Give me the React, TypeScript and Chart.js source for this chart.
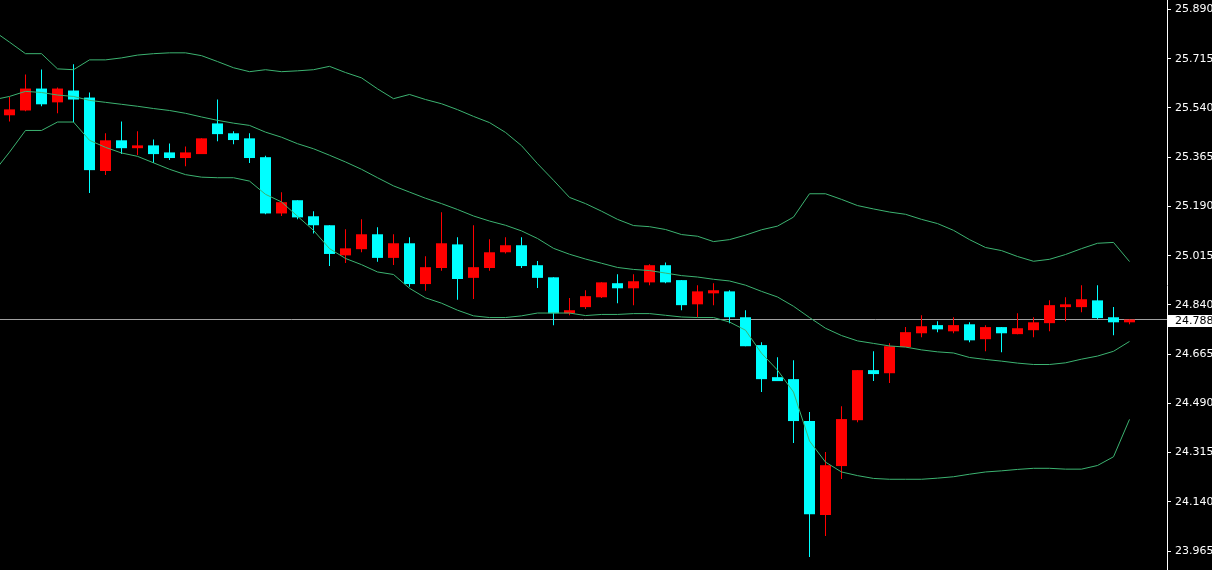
import { useEffect, useRef } from 'react';
import { Chart, registerables } from 'chart.js';

Chart.register(...registerables);

// OHLC of the 71 visible bars (left to right)
const opens = [
  25.514, 25.531, 25.609, 25.560, 25.602, 25.577, 25.316, 25.425, 25.397, 25.407,
  25.382, 25.362, 25.376, 25.485, 25.450, 25.432, 25.365, 25.165, 25.212, 25.155,
  25.123, 25.016, 25.038, 25.091, 25.007, 25.059, 24.914, 24.971, 25.055, 24.936,
  24.971, 25.027, 25.052, 24.981, 24.938, 24.810, 24.832, 24.867, 24.917, 24.899,
  24.920, 24.981, 24.928, 24.842, 24.881, 24.888, 24.796, 24.697, 24.583, 24.576,
  24.427, 24.093, 24.267, 24.430, 24.608, 24.597, 24.690, 24.739, 24.768, 24.746,
  24.771, 24.718, 24.761, 24.736, 24.750, 24.775, 24.832, 24.832, 24.856, 24.796,
  24.778,
];
const highs = [
  25.579, 25.659, 25.677, 25.613, 25.695, 25.595, 25.450, 25.492, 25.457, 25.428,
  25.414, 25.403, 25.432, 25.570, 25.457, 25.450, 25.370, 25.240, 25.212, 25.173,
  25.123, 25.109, 25.144, 25.116, 25.091, 25.080, 25.013, 25.169, 25.080, 25.123,
  25.073, 25.080, 25.080, 24.996, 24.938, 24.864, 24.892, 24.920, 24.949, 24.949,
  24.984, 24.991, 24.928, 24.910, 24.917, 24.892, 24.821, 24.707, 24.654, 24.643,
  24.459, 24.317, 24.480, 24.608, 24.675, 24.704, 24.761, 24.803, 24.782, 24.796,
  24.778, 24.768, 24.761, 24.810, 24.796, 24.856, 24.867, 24.910, 24.910, 24.832,
  24.788,
];
const lows = [
  25.492, 25.528, 25.546, 25.521, 25.489, 25.238, 25.302, 25.376, 25.373, 25.344,
  25.355, 25.333, 25.376, 25.422, 25.411, 25.344, 25.162, 25.156, 25.144, 25.094,
  24.978, 24.989, 25.027, 24.993, 24.982, 24.904, 24.890, 24.961, 24.858, 24.861,
  24.961, 25.023, 24.971, 24.900, 24.768, 24.803, 24.825, 24.864, 24.846, 24.839,
  24.910, 24.917, 24.821, 24.796, 24.839, 24.775, 24.693, 24.530, 24.569, 24.349,
  23.944, 24.018, 24.221, 24.423, 24.569, 24.562, 24.690, 24.725, 24.743, 24.739,
  24.707, 24.675, 24.672, 24.736, 24.725, 24.746, 24.782, 24.814, 24.789, 24.732,
  24.771,
];
const closes = [
  25.535, 25.609, 25.553, 25.609, 25.570, 25.319, 25.425, 25.397, 25.407, 25.376,
  25.362, 25.382, 25.432, 25.447, 25.426, 25.362, 25.165, 25.205, 25.151, 25.123,
  25.021, 25.041, 25.091, 25.007, 25.059, 24.914, 24.974, 25.059, 24.932, 24.974,
  25.027, 25.052, 24.978, 24.936, 24.810, 24.821, 24.871, 24.920, 24.899, 24.924,
  24.981, 24.920, 24.839, 24.888, 24.892, 24.796, 24.693, 24.576, 24.569, 24.427,
  24.096, 24.270, 24.434, 24.608, 24.594, 24.693, 24.743, 24.764, 24.753, 24.768,
  24.714, 24.761, 24.739, 24.757, 24.778, 24.839, 24.842, 24.860, 24.793, 24.778,
  24.788,
];

// Bollinger bands, starting one bar before the first visible bar
const bandStart = -1;
const upperBand = [
  25.814, 25.774, 25.733, 25.733, 25.679, 25.676, 25.711, 25.711, 25.718, 25.728,
  25.733, 25.736, 25.736, 25.726, 25.705, 25.683, 25.669, 25.676, 25.669, 25.672,
  25.676, 25.688, 25.666, 25.647, 25.608, 25.573, 25.588, 25.570, 25.555, 25.534,
  25.510, 25.488, 25.453, 25.406, 25.342, 25.283, 25.222, 25.200, 25.173, 25.144,
  25.122, 25.118, 25.108, 25.090, 25.084, 25.065, 25.072, 25.088, 25.107, 25.120,
  25.152, 25.235, 25.235, 25.215, 25.193, 25.181, 25.170, 25.162, 25.144, 25.129,
  25.105, 25.072, 25.044, 25.033, 25.012, 24.995, 25.002, 25.019, 25.040, 25.059,
  25.062, 24.994,
];
const middleBand = [
  25.569, 25.581, 25.599, 25.595, 25.586, 25.581, 25.567, 25.560, 25.553, 25.546,
  25.538, 25.531, 25.521, 25.508, 25.496, 25.486, 25.478, 25.454, 25.436, 25.413,
  25.395, 25.372, 25.348, 25.322, 25.292, 25.263, 25.241, 25.219, 25.200, 25.179,
  25.156, 25.138, 25.123, 25.103, 25.076, 25.041, 25.020, 25.003, 24.988, 24.973,
  24.966, 24.962, 24.953, 24.944, 24.939, 24.931, 24.925, 24.910, 24.888, 24.868,
  24.835, 24.795, 24.757, 24.731, 24.712, 24.703, 24.694, 24.690, 24.680, 24.673,
  24.669, 24.653, 24.646, 24.640, 24.633, 24.628, 24.628, 24.634, 24.647, 24.658,
  24.675, 24.710,
];
const lowerBand = [
  25.311, 25.383, 25.460, 25.460, 25.490, 25.490, 25.425, 25.400, 25.380, 25.368,
  25.345, 25.322, 25.303, 25.294, 25.292, 25.292, 25.280, 25.233, 25.206, 25.155,
  25.105, 25.040, 25.005, 24.983, 24.957, 24.948, 24.899, 24.865, 24.846, 24.821,
  24.801, 24.795, 24.795, 24.801, 24.811, 24.811, 24.811, 24.802, 24.806, 24.806,
  24.809, 24.809, 24.803, 24.797, 24.795, 24.795, 24.779, 24.750, 24.668, 24.608,
  24.530, 24.356, 24.281, 24.246, 24.233, 24.223, 24.220, 24.220, 24.220, 24.224,
  24.229, 24.238, 24.246, 24.250, 24.255, 24.259, 24.259, 24.256, 24.256, 24.269,
  24.300, 24.433,
];

const yTicks = [25.890, 25.715, 25.540, 25.365, 25.190, 25.015, 24.840, 24.665, 24.490, 24.315, 24.140, 23.965];

const UP = '#ff0000';
const DOWN = '#00ffff';
const BAND = '#3cb371';
const BID = '#a0a0a0';
const FONT = '"DejaVu Sans", sans-serif';

const lastPrice = closes[closes.length - 1];

export default function App() {
  const ref = useRef<HTMLCanvasElement | null>(null);

  useEffect(() => {
    document.body.style.margin = '0';
    document.body.style.background = '#000';
    const colors = closes.map((c, i) => (c >= opens[i] ? UP : DOWN));
    const bodies = closes.map((c, i) => ({ x: i, y: [Math.min(opens[i], c), Math.max(opens[i], c)] }));
    const wicks = highs.map((h, i) => ({ x: i, y: [lows[i], h] }));
    const band = (arr: number[]) => arr.map((v, k) => ({ x: k + bandStart, y: v }));

    const bidLabel = {
      id: 'bidLabel',
      afterDraw(chart: any) {
        const ctx = chart.ctx;
        const y = chart.scales.y.getPixelForValue(lastPrice);
        const x = chart.chartArea.right + 1;
        ctx.save();
        ctx.fillStyle = '#ffffff';
        ctx.fillRect(x, Math.round(y) - 5, chart.width - x, 12);
        ctx.fillStyle = '#000000';
        ctx.font = '11px ' + FONT;
        ctx.textBaseline = 'middle';
        ctx.textAlign = 'left';
        ctx.fillText(lastPrice.toFixed(3), x + 7, Math.round(y) + 1);
        ctx.restore();
      },
    };

    const chart = new Chart(ref.current as HTMLCanvasElement, {
      type: 'bar',
      data: {
        datasets: [
          { type: 'line', data: band(upperBand), borderColor: BAND, borderWidth: 1, pointRadius: 0, tension: 0, order: 0 } as any,
          { type: 'line', data: band(middleBand), borderColor: BAND, borderWidth: 1, pointRadius: 0, tension: 0, order: 0 } as any,
          { type: 'line', data: band(lowerBand), borderColor: BAND, borderWidth: 1, pointRadius: 0, tension: 0, order: 0 } as any,
          { type: 'bar', data: bodies, backgroundColor: colors, borderWidth: 0, barThickness: 11, grouped: false, inflateAmount: 0, order: 1 } as any,
          { type: 'bar', data: wicks, backgroundColor: colors, borderWidth: 0, barThickness: 1, grouped: false, inflateAmount: 0, order: 2 } as any,
          { type: 'line', data: [{ x: -2, y: lastPrice }, { x: 80, y: lastPrice }], borderColor: BID, borderWidth: 1, pointRadius: 0, order: 3 } as any,
        ],
      },
      options: {
        animation: false,
        responsive: true,
        maintainAspectRatio: false,
        layout: { padding: 0 },
        plugins: { legend: { display: false }, tooltip: { enabled: false } },
        scales: {
          x: {
            type: 'linear',
            display: false,
            offset: false,
            min: -0.59375,
            max: 72.34375,
          },
          y: {
            type: 'linear',
            position: 'right',
            min: 23.8975,
            max: 25.9238,
            beginAtZero: false,
            afterBuildTicks: (s: any) => {
              s.ticks = yTicks.map((v) => ({ value: v }));
            },
            afterFit: (s: any) => {
              s.width = 45;
              s.paddingTop = 0;
              s.paddingBottom = 0;
            },
            grid: { drawOnChartArea: false, drawTicks: true, tickLength: 4, color: '#ffffff', tickColor: '#ffffff' },
            border: { display: true, color: '#ffffff', width: 1 },
            ticks: {
              color: '#ffffff',
              font: { family: FONT, size: 11 },
              padding: 4,
              autoSkip: false,
              callback: (v: any) => Number(v).toFixed(3),
            },
          },
        },
      } as any,
      plugins: [bidLabel],
    });
    return () => chart.destroy();
  }, []);

  return (
    <div style={{ position: 'fixed', left: 0, top: 0, width: 1212, height: 570, background: '#000' }}>
      <canvas ref={ref} />
    </div>
  );
}
